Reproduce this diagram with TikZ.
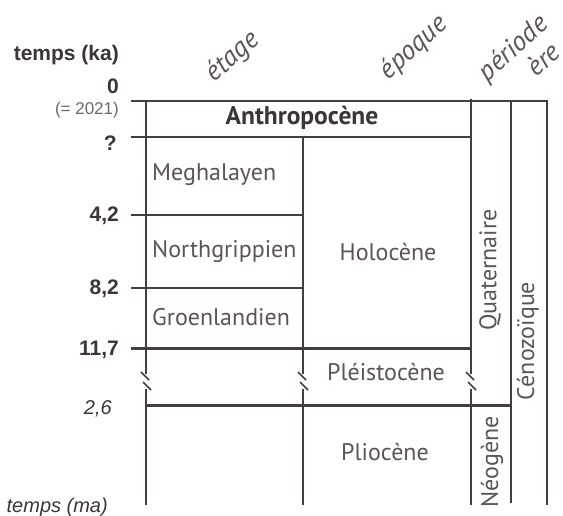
\documentclass[tikz,border=0pt]{standalone}
\usepackage{fontspec}
\setmainfont{PT Sans}
\newfontfamily\arialf{Liberation Sans}
\definecolor{linec}{RGB}{70,62,62}
\definecolor{txtc}{RGB}{92,84,84}
\definecolor{darkc}{RGB}{60,53,53}
\definecolor{lightc}{RGB}{110,102,102}
\begin{document}
\begin{tikzpicture}[x=1pt,y=-1pt,
  rule/.style={draw=linec, line width=2.4pt},
  brk/.style={draw=linec, line width=1.6pt},
  lab/.style={text=txtc, font=\fontsize{24}{27}\selectfont, inner sep=0pt},
  vlab/.style={lab, rotate=90},
  head/.style={text=txtc, font=\fontsize{27.5}{30}\selectfont\itshape, rotate=42, inner sep=0pt},
  axl/.style={text=darkc, font=\arialf\bfseries\fontsize{21}{24}\selectfont, anchor=east, inner sep=0pt},
  axi/.style={text=darkc, font=\arialf\itshape\fontsize{20}{24}\selectfont, anchor=east, inner sep=0pt}
]
\useasboundingbox (0,0) rectangle (563,515);

% horizontal rules
\draw[rule] (131,101) -- (547,101) -- (547,505);
\draw[rule] (131,137) -- (471,137);
\draw[rule] (131,215) -- (303,215);
\draw[rule] (131,288) -- (303,288);
\draw[rule] (131,348.5) -- (471,348.5);
\draw[rule] (146,405.5) -- (511,405.5);

% vertical rules with breaks
\foreach \xx/\yt in {146/101, 303/137, 471/99}{
  \draw[rule] (\xx,\yt) -- (\xx,374);
  \draw[rule] (\xx,389) -- (\xx,505);
  \draw[brk] (\xx-5,372) -- (\xx+3,380);
  \draw[brk] (\xx-3,382) -- (\xx+5,390);
}
\draw[rule] (511,101) -- (511,503);

% left axis labels
\node[axl] (tka) at (119,55) {temps (ka)};
\node[axl] (t0) at (119,86) {0};
\node[anchor=east, inner sep=0pt, text=lightc, font=\arialf\fontsize{17}{20}\selectfont] (t2021) at (119,110) {(= 2021)};
\node[axl] (tq) at (117,143) {?};
\node[axl] (t42) at (119,216) {4,2};
\node[axl] (t82) at (119,289) {8,2};
\node[axl] (t117) at (119,350) {11,7};
\node[axi] (t26) at (112,409) {2,6};
\node[axi] (tma) at (108,507) {temps (ma)};

% headers
\node[head] (h1) at (233,57) {étage};
\node[head] (h2) at (414,48) {époque};
\node[head] (h3) at (514,49) {période};
\node[head] (h4) at (543,59) {ère};

% cells
\node[lab, text=darkc, font=\fontsize{25.5}{28}\selectfont\bfseries] (anth) at (302,118) {Anthropocène};
\node[lab, anchor=west] (megh) at (152,175) {Meghalayen};
\node[lab, anchor=west] (north) at (152,252) {Northgrippien};
\node[lab, anchor=west] (groen) at (152,317) {Groenlandien};
\node[lab] (holo) at (388,252) {Holocène};
\node[lab] (pleis) at (386,372) {Pléistocène};
\node[lab] (plio) at (385,452) {Pliocène};
\node[vlab] (quat) at (490,270) {Quaternaire};
\node[vlab] (ceno) at (528,341) {Cénozoïque};
\node[vlab] (neog) at (492,462) {Néogène};
\end{tikzpicture}
\end{document}
